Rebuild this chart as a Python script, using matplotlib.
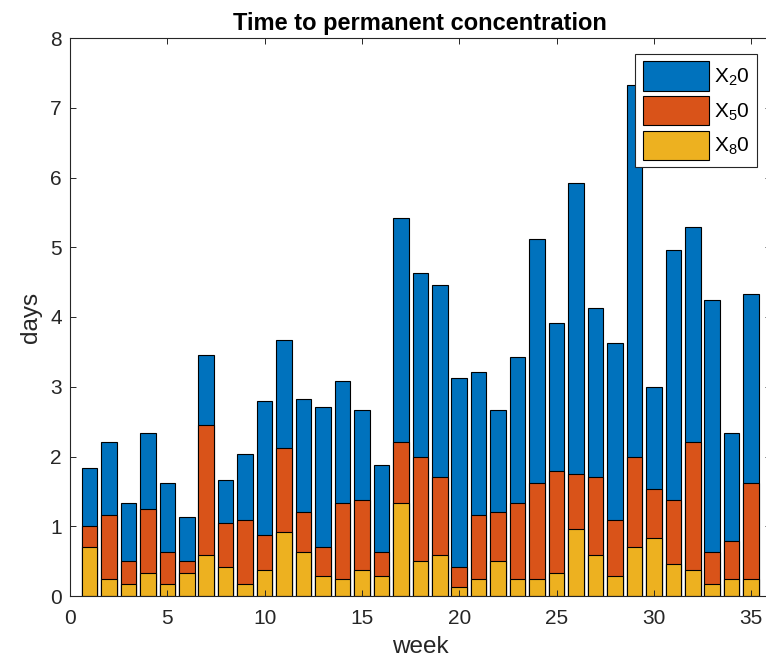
import numpy as np
import matplotlib
matplotlib.use('Agg')
import matplotlib.pyplot as plt

plt.rcParams['font.family'] = ['Liberation Sans', 'DejaVu Sans']
plt.rcParams['mathtext.default'] = 'regular'

# weekly time (days) until concentration stays permanently above each level
weeks = np.arange(1, 36)
x20 = [1.83, 2.21, 1.34, 2.34, 1.625, 1.13, 3.46, 1.67, 2.04, 2.79,
       3.67, 2.83, 2.71, 3.08, 2.67, 1.875, 5.42, 4.625, 4.46, 3.125,
       3.21, 2.67, 3.42, 5.125, 3.91, 5.92, 4.125, 3.625, 7.33, 3.0,
       4.96, 5.29, 4.25, 2.33, 4.33]
x50 = [1.0, 1.166, 0.5, 1.25, 0.625, 0.5, 2.458, 1.04, 1.083, 0.875,
       2.125, 1.208, 0.708, 1.333, 1.375, 0.625, 2.208, 2.0, 1.708, 0.416,
       1.166, 1.208, 1.333, 1.625, 1.79, 1.75, 1.708, 1.083, 2.0, 1.54,
       1.375, 2.208, 0.625, 0.79, 1.625]
x80 = [0.708, 0.25, 0.166, 0.333, 0.166, 0.333, 0.583, 0.416, 0.166, 0.375,
       0.916, 0.625, 0.29, 0.25, 0.375, 0.29, 1.333, 0.5, 0.583, 0.125,
       0.25, 0.5, 0.25, 0.25, 0.333, 0.958, 0.583, 0.29, 0.708, 0.833,
       0.458, 0.375, 0.166, 0.25, 0.25]
labels = ['X$_2$0', 'X$_5$0', 'X$_8$0']
colors = ['#0072BD', '#D95319', '#EDB120']

fig = plt.figure(figsize=(7.66, 6.6), dpi=100)
ax = fig.add_axes([70 / 766, 1 - 596 / 660, 700.6 / 766, 558 / 660])

# bars overlap rather than stack: the tallest series goes in first
for vals, lab, col in zip([x20, x50, x80], labels, colors):
    ax.bar(weeks, vals, width=0.8, color=col, edgecolor='black',
           linewidth=0.8, label=lab)

ax.set_xlim(0, 36)
ax.set_ylim(0, 8)
ax.set_xticks(np.arange(0, 36, 5))
ax.set_yticks(np.arange(0, 9, 1))

txt = '#262626'
ax.tick_params(direction='in', top=True, right=True, length=4, width=0.7,
               colors=txt, labelsize=15)
ax.tick_params(axis='x', pad=9)
ax.tick_params(axis='y', pad=6)
for s in ax.spines.values():
    s.set_color(txt)
    s.set_linewidth(0.8)

ax.set_title('Time to permanent concentration', fontsize=17,
             fontweight='bold', pad=6)
ax.set_xlabel('week', fontsize=17.5, color=txt, labelpad=6)
ax.set_ylabel('days', fontsize=17.5, color=txt, labelpad=6)

leg = ax.legend(loc='upper right', bbox_to_anchor=(0.9806, 0.9713),
                borderaxespad=0, fontsize=15, handlelength=3.2,
                handleheight=1.8, labelspacing=0.25, handletextpad=0.23,
                borderpad=0.35, fancybox=False, framealpha=1)
leg.get_frame().set_edgecolor(txt)
leg.get_frame().set_linewidth(0.8)

fig.savefig('out.png', dpi=100)
